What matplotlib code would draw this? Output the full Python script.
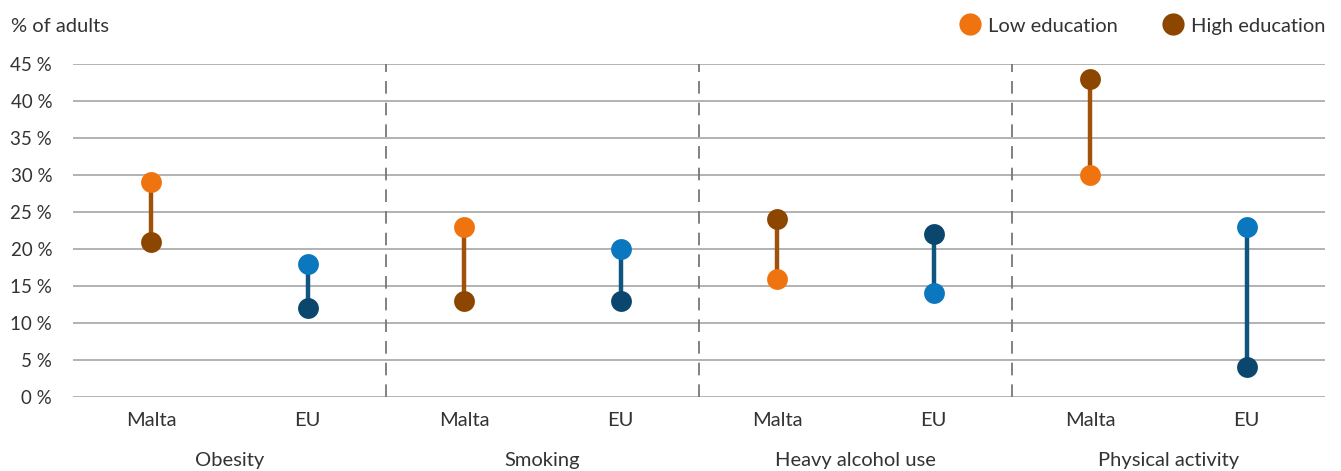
import numpy as np
import matplotlib.pyplot as plt
from matplotlib.lines import Line2D

# ========================================================
# DATA

INDICATORS = ["Obesity", "Smoking", "Heavy alcohol use", "Physical activity"]
AREAS = ["Malta", "EU"]
MALTA_LOW = [29, 23, 16, 30]
MALTA_HIGH = [21, 13, 24, 43]
EU_LOW = [18, 20, 14, 23]
EU_HIGH = [12, 13, 22, 4]
Y_TICKS = [0, 5, 10, 15, 20, 25, 30, 35, 40, 45]

# ========================================================
# STYLE

ORANGE = "#EF7410"
BROWN = "#8C4600"
MALTA_LINE = "#A0520C"
LIGHT_BLUE = "#0B77BF"
DARK_BLUE = "#0A466E"
EU_LINE = "#0F5580"
GRID = "#A6A6A6"
TEXT = "#333333"
FS = 14.5

plt.rcParams["font.family"] = ["Lato", "DejaVu Sans"]

fig = plt.figure(figsize=(13.41, 4.71), dpi=100)
ax = fig.add_axes([73 / 1341, 1 - 397 / 471, (1325 - 73) / 1341, (397 - 64) / 471])

x = np.arange(len(INDICATORS) * len(AREAS))
x_malta = x[0::2]
x_eu = x[1::2]

MS = 15
LW = 3.2
for xi, lo, hi in zip(x_malta, MALTA_LOW, MALTA_HIGH):
    ax.plot([xi, xi], [lo, hi], color=MALTA_LINE, lw=LW, zorder=3, solid_capstyle="butt")
for xi, lo, hi in zip(x_eu, EU_LOW, EU_HIGH):
    ax.plot([xi, xi], [lo, hi], color=EU_LINE, lw=LW, zorder=3, solid_capstyle="butt")

ax.plot(x_malta, MALTA_LOW, "o", color=ORANGE, ms=MS, mec="none", zorder=4)
ax.plot(x_malta, MALTA_HIGH, "o", color=BROWN, ms=MS, mec="none", zorder=4)
ax.plot(x_eu, EU_LOW, "o", color=LIGHT_BLUE, ms=MS, mec="none", zorder=4)
ax.plot(x_eu, EU_HIGH, "o", color=DARK_BLUE, ms=MS, mec="none", zorder=4)

ax.set_xlim(-0.5, len(x) - 0.5)
ax.set_ylim(0, 45)
ax.set_yticks(Y_TICKS)
ax.set_yticklabels([f"{v} %" for v in Y_TICKS], fontsize=13.5, color=TEXT)
for v in Y_TICKS:
    ax.axhline(v, color=GRID, lw=1.2, zorder=1)
for i in range(1, len(INDICATORS)):
    ax.axvline(2 * i - 0.5, color="#777777", lw=1.3, ls=(0, (7, 5)), zorder=2)

ax.set_xticks(x)
ax.set_xticklabels(AREAS * len(INDICATORS), fontsize=FS, color=TEXT)
ax.tick_params(axis="both", length=0)
ax.tick_params(axis="x", pad=11)
ax.tick_params(axis="y", pad=15)
for s in ax.spines.values():
    s.set_visible(False)

for i, name in enumerate(INDICATORS):
    ax.text(2 * i + 0.5, -8.6, name, ha="center", va="center", fontsize=FS, color=TEXT)

fig.text(11 / 1341, 1 - 26 / 471, "% of adults", ha="left", va="center", fontsize=FS, color=TEXT)

handles = [
    Line2D([], [], marker="o", ls="none", color=ORANGE, ms=16, mec="none"),
    Line2D([], [], marker="o", ls="none", color=BROWN, ms=16, mec="none"),
]
fig.legend(handles, ["Low education", "High education"], loc="center right",
           bbox_to_anchor=(1336 / 1341, 1 - 26 / 471), ncol=2, frameon=False,
           fontsize=FS, handletextpad=0.15, columnspacing=2.0, borderpad=0,
           handlelength=1.5, labelcolor=TEXT)

fig.savefig("out.png", dpi=100)
